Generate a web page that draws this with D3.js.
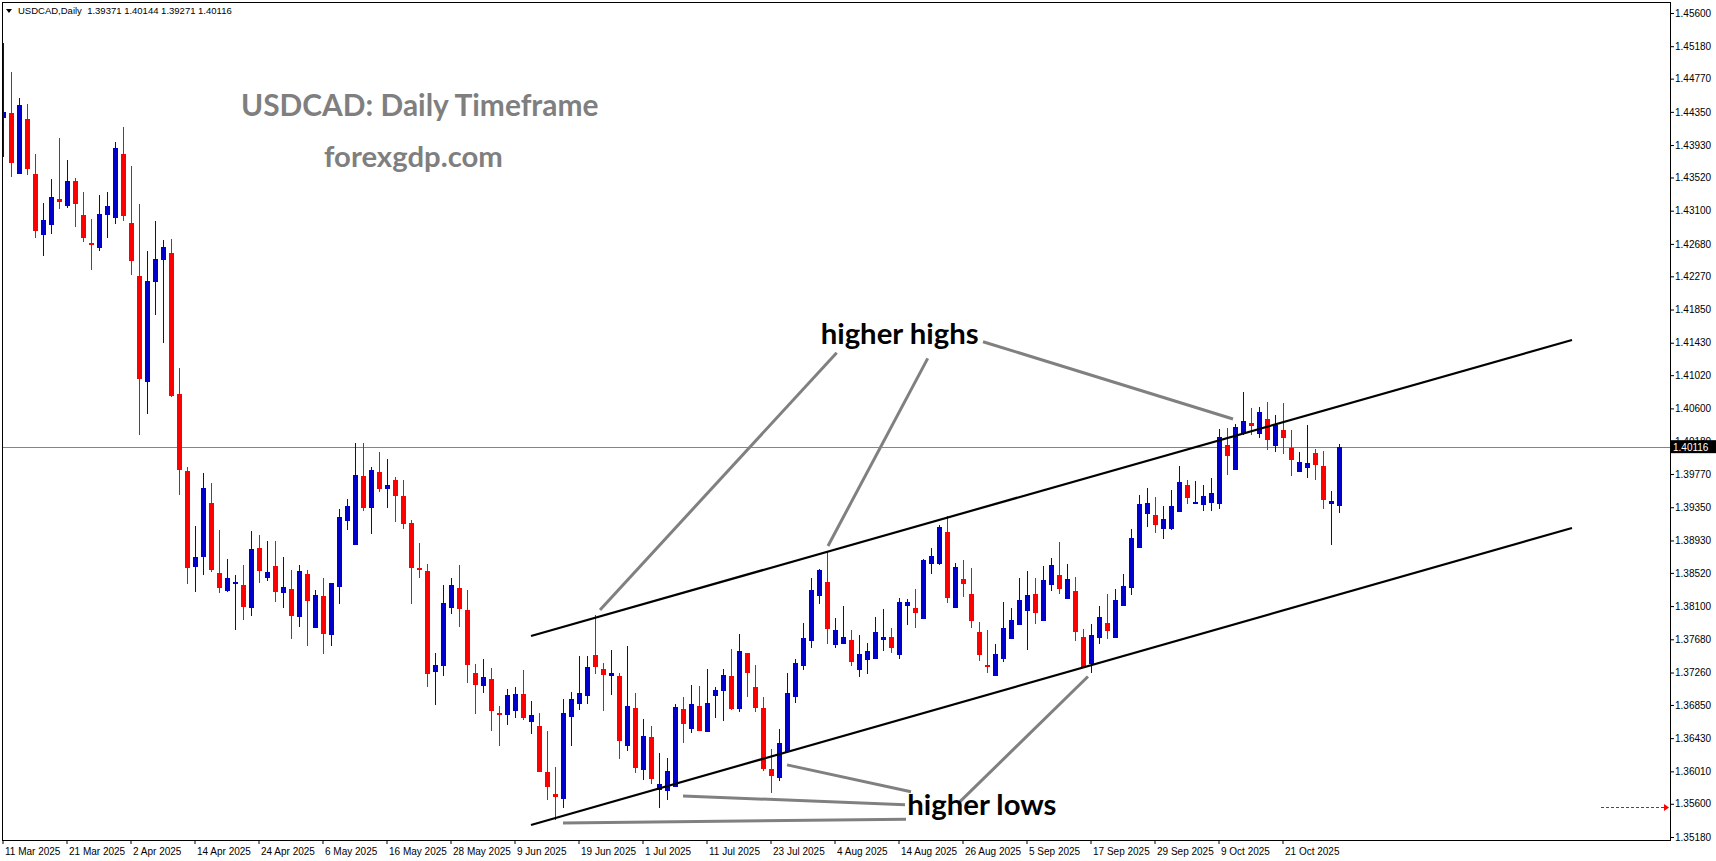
<!DOCTYPE html>
<html>
<head>
<meta charset="utf-8">
<script src="https://cdn.jsdelivr.net/npm/d3@7"></script>
<style>
  body { margin: 0; background: #fff; }
  svg { display: block; }
</style>
</head>
<body>
<script>
// daily bars, 11 Mar 2025 .. 30 Oct 2025 (one per weekday)
const opens = [1.44272,1.44335,1.43564,1.44259,1.43564,1.42792,1.42919,1.43248,1.43159,1.43475,1.43045,1.42691,1.42628,1.43045,1.43007,1.43817,1.42944,1.42274,1.40934,1.42198,1.42476,1.42565,1.40782,1.39808,1.38594,1.38721,1.39404,1.38518,1.38291,1.38379,1.38367,1.38076,1.38835,1.38455,1.38607,1.38265,1.38316,1.37962,1.38506,1.37823,1.38228,1.37734,1.38341,1.39176,1.38873,1.39745,1.39340,1.39796,1.39581,1.39694,1.39492,1.39151,1.38582,1.38544,1.37267,1.37342,1.38076,1.38329,1.38051,1.37254,1.37090,1.37178,1.36748,1.36723,1.36773,1.36988,1.36634,1.36584,1.36002,1.35724,1.35661,1.36698,1.36862,1.36963,1.37482,1.37305,1.37216,1.37216,1.36331,1.36811,1.36027,1.36445,1.35774,1.35762,1.35812,1.36799,1.36546,1.36837,1.36508,1.36963,1.37026,1.37216,1.36799,1.37507,1.37077,1.36811,1.36040,1.35926,1.36255,1.36950,1.37342,1.37659,1.38228,1.38405,1.37608,1.37621,1.37671,1.37292,1.37418,1.37431,1.37671,1.37709,1.37482,1.38101,1.38076,1.37937,1.38632,1.38632,1.39037,1.38076,1.38443,1.38253,1.37772,1.37355,1.37216,1.37431,1.37684,1.37861,1.38038,1.38253,1.37911,1.38367,1.38493,1.38190,1.38291,1.37709,1.37368,1.37697,1.37886,1.37697,1.38101,1.38329,1.38835,1.39265,1.39252,1.39075,1.39075,1.39290,1.39631,1.39391,1.39378,1.39404,1.39391,1.40137,1.39821,1.40276,1.40415,1.40276,1.40466,1.40124,1.40327,1.40099,1.39796,1.39846,1.40036,1.39871,1.39391,1.39371];
const highs = [1.45220,1.44854,1.44525,1.44449,1.43817,1.43197,1.43501,1.44019,1.43741,1.43513,1.43336,1.42995,1.43298,1.43336,1.43968,1.44158,1.43665,1.43184,1.42590,1.42970,1.42729,1.42742,1.41111,1.39859,1.39113,1.39783,1.39657,1.39062,1.38695,1.38493,1.38620,1.39050,1.38999,1.38923,1.38923,1.38721,1.38556,1.38620,1.38556,1.38303,1.38455,1.38395,1.39328,1.39454,1.40162,1.40162,1.39859,1.40049,1.39960,1.39732,1.39694,1.39189,1.38898,1.38632,1.37507,1.38367,1.38455,1.38620,1.38303,1.37368,1.37431,1.37317,1.36837,1.37052,1.37077,1.37292,1.36900,1.36748,1.36521,1.36065,1.36925,1.37014,1.37469,1.37469,1.37987,1.37380,1.37545,1.37254,1.37595,1.37001,1.36672,1.36584,1.36242,1.36179,1.36862,1.36950,1.37102,1.37090,1.37305,1.37077,1.37305,1.37557,1.37747,1.37511,1.37355,1.36950,1.36293,1.36546,1.37254,1.37431,1.37886,1.38455,1.38569,1.38784,1.37949,1.38101,1.37798,1.37734,1.37633,1.37962,1.38063,1.37823,1.38202,1.38190,1.38316,1.38695,1.38835,1.39125,1.39239,1.38645,1.38683,1.38582,1.37899,1.37798,1.37621,1.38152,1.38076,1.38455,1.38544,1.38455,1.38607,1.38708,1.38910,1.38632,1.38468,1.37810,1.37874,1.38101,1.38253,1.38316,1.38506,1.39075,1.39505,1.39593,1.39479,1.39366,1.39568,1.39871,1.39694,1.39682,1.39631,1.39720,1.40339,1.40352,1.40403,1.40807,1.40605,1.40618,1.40681,1.40516,1.40668,1.40327,1.40049,1.40390,1.40086,1.40061,1.39555,1.40144];
const lows = [1.43779,1.43526,1.43560,1.43551,1.42755,1.42527,1.42805,1.43121,1.43134,1.42894,1.42704,1.42350,1.42590,1.42755,1.42932,1.42970,1.42287,1.40263,1.40529,1.41781,1.41427,1.40744,1.39505,1.38379,1.38278,1.38493,1.38531,1.38265,1.38278,1.37798,1.37924,1.37975,1.38392,1.38417,1.38152,1.38076,1.37684,1.37836,1.37595,1.37820,1.37494,1.37595,1.38126,1.39062,1.38870,1.39302,1.39012,1.39543,1.39340,1.39163,1.39075,1.38126,1.38455,1.37077,1.36849,1.37216,1.38000,1.37836,1.37128,1.36736,1.37001,1.36521,1.36331,1.36596,1.36685,1.36660,1.36483,1.35998,1.35648,1.35395,1.35547,1.36331,1.36786,1.36862,1.37241,1.36773,1.36976,1.36166,1.36268,1.35989,1.35901,1.35850,1.35547,1.35648,1.35808,1.36369,1.36495,1.36518,1.36505,1.36685,1.36647,1.36786,1.36761,1.36950,1.36761,1.36015,1.35737,1.35888,1.36242,1.36875,1.37292,1.37570,1.38126,1.37621,1.37570,1.37618,1.37342,1.37203,1.37241,1.37428,1.37532,1.37507,1.37431,1.37861,1.37823,1.37933,1.38506,1.38620,1.38139,1.38072,1.38215,1.37823,1.37406,1.37254,1.37212,1.37393,1.37680,1.37857,1.37545,1.37874,1.37907,1.38291,1.38253,1.38186,1.37659,1.37326,1.37254,1.37621,1.37684,1.37693,1.38097,1.38240,1.38831,1.39100,1.39024,1.38948,1.39062,1.39286,1.39391,1.39387,1.39302,1.39302,1.39328,1.39758,1.39817,1.40263,1.40263,1.40226,1.40074,1.40049,1.40023,1.39745,1.39792,1.39720,1.39694,1.39328,1.38873,1.39271];
const closes = [1.44348,1.43703,1.44436,1.43627,1.42843,1.42982,1.43273,1.43210,1.43475,1.43184,1.42755,1.42679,1.43058,1.43159,1.43893,1.43033,1.42464,1.40972,1.42211,1.42489,1.42641,1.40757,1.39821,1.38582,1.38721,1.39593,1.38556,1.38329,1.38455,1.38405,1.38088,1.38822,1.38544,1.38531,1.38278,1.38341,1.37975,1.38544,1.38164,1.38240,1.37747,1.38390,1.39227,1.39366,1.39758,1.39340,1.39821,1.39581,1.39631,1.39492,1.39138,1.38582,1.38556,1.37241,1.37355,1.38139,1.38367,1.38063,1.37355,1.37102,1.37203,1.36773,1.36723,1.36976,1.36988,1.36685,1.36723,1.36002,1.35812,1.35686,1.36748,1.36925,1.37001,1.37330,1.37330,1.37229,1.37254,1.36394,1.36837,1.36053,1.36457,1.35914,1.35850,1.36015,1.36824,1.36609,1.36862,1.36521,1.36875,1.37039,1.37229,1.36799,1.37532,1.37254,1.36811,1.36040,1.35952,1.36369,1.37001,1.37380,1.37697,1.38303,1.38556,1.37810,1.37798,1.37709,1.37393,1.37494,1.37532,1.37772,1.37709,1.37570,1.38152,1.38152,1.38013,1.38683,1.38733,1.39100,1.38202,1.38594,1.38379,1.37911,1.37482,1.37330,1.37494,1.37823,1.37924,1.38177,1.38240,1.38013,1.38430,1.38620,1.38316,1.38443,1.37772,1.37330,1.37734,1.37962,1.37785,1.38177,1.38354,1.38961,1.39391,1.39404,1.39125,1.39201,1.39366,1.39669,1.39467,1.39416,1.39492,1.39530,1.40238,1.39998,1.40365,1.40441,1.40377,1.40554,1.40200,1.40390,1.40226,1.39947,1.39922,1.39909,1.39884,1.39442,1.39429,1.40116];

// x axis labels every 8 bars
const xTickLabels = ['11 Mar 2025','21 Mar 2025','2 Apr 2025','14 Apr 2025','24 Apr 2025','6 May 2025','16 May 2025','28 May 2025','9 Jun 2025','19 Jun 2025','1 Jul 2025','11 Jul 2025','23 Jul 2025','4 Aug 2025','14 Aug 2025','26 Aug 2025','5 Sep 2025','17 Sep 2025','29 Sep 2025','9 Oct 2025','21 Oct 2025'];
const yTicks = [1.456,1.4518,1.4477,1.4435,1.4393,1.4352,1.431,1.4268,1.4227,1.4185,1.4143,1.4102,1.406,1.4018,1.3977,1.3935,1.3893,1.3852,1.381,1.3768,1.3726,1.3685,1.3643,1.3601,1.356,1.3518];
const lastPrice = 1.40116;
const markerPrice = 1.35559;

// channel lines and callouts: [barIndex, price] pairs
const upperChannel = [[65.94, 1.37722], [196.06, 1.41465]];
const lowerChannel = [[65.94, 1.35332], [196.06, 1.39088]];
const highCallouts = [
  [[104.15, 1.41304], [74.56, 1.38051]],
  [[115.53, 1.41233], [103.06, 1.38860]],
  [[122.44, 1.41443], [153.69, 1.40466]]
];
const lowCallouts = [
  [[113.44, 1.35753], [97.94, 1.36092]],
  [[112.69, 1.35588], [84.94, 1.35699]],
  [[112.81, 1.35406], [69.94, 1.35357]],
  [[119.56, 1.35627], [135.56, 1.37209]]
];
const labels = [
  { text: 'higher highs', at: [102.15, 1.41410] },
  { text: 'higher lows', at: [112.98, 1.35460] }
];

const width = 1716, height = 861;
const plot = { left: 2, top: 2, right: 1670, bottom: 840 };

const svg = d3.select('body').append('svg')
  .attr('width', width).attr('height', height)
  .style('background', '#fff');

const x = d3.scaleLinear().domain([0, opens.length - 1]).range([3.5, 3.5 + 8 * (opens.length - 1)]);
const y = d3.scaleLinear().domain([1.456, 1.3518]).range([13, 837]);

svg.append('clipPath').attr('id', 'plotclip')
  .append('rect')
  .attr('x', plot.left).attr('y', plot.top)
  .attr('width', plot.right - plot.left).attr('height', plot.bottom - plot.top);

const g = svg.append('g').attr('clip-path', 'url(#plotclip)');

// last price line
g.append('line')
  .attr('x1', plot.left).attr('x2', plot.right)
  .attr('y1', Math.round(y(lastPrice)) + 0.5).attr('y2', Math.round(y(lastPrice)) + 0.5)
  .attr('stroke', '#778899').attr('stroke-width', 1);

// candles
const bars = d3.range(opens.length).map((i) => ({
  i, o: opens[i], h: highs[i], l: lows[i], c: closes[i]
}));
const colour = (d) => (d.c >= d.o ? '#0000cd' : '#ff0000');

const candle = g.append('g').attr('shape-rendering', 'crispEdges')
  .selectAll('g').data(bars).enter().append('g');

candle.append('line')
  .attr('x1', (d) => x(d.i)).attr('x2', (d) => x(d.i))
  .attr('y1', (d) => y(d.h)).attr('y2', (d) => y(d.l))
  .attr('stroke', colour).attr('stroke-width', 1);

candle.append('rect')
  .attr('x', (d) => x(d.i) - 2.5)
  .attr('width', 5)
  .attr('y', (d) => y(Math.max(d.o, d.c)))
  .attr('height', (d) => Math.max(1.5, y(Math.min(d.o, d.c)) - y(Math.max(d.o, d.c))))
  .attr('fill', colour);

// channel
const line = d3.line().x((d) => x(d[0])).y((d) => y(d[1]));
[upperChannel, lowerChannel].forEach((pts) => {
  g.append('path').attr('d', line(pts))
    .attr('fill', 'none').attr('stroke', '#000').attr('stroke-width', 2.2);
});

// callouts
highCallouts.concat(lowCallouts).forEach((pts) => {
  g.append('path').attr('d', line(pts))
    .attr('fill', 'none').attr('stroke', '#808080').attr('stroke-width', 3);
});

g.selectAll('text.note').data(labels).enter().append('text')
  .attr('class', 'note')
  .attr('x', (d) => x(d.at[0])).attr('y', (d) => y(d.at[1]))
  .attr('font-family', 'Lato, "Open Sans", sans-serif')
  .attr('font-weight', 700).attr('font-size', 29.3)
  .attr('fill', '#000')
  .text((d) => d.text);

// titles
g.append('text').attr('x', 241).attr('y', 116)
  .attr('font-family', 'Lato, "Open Sans", sans-serif').attr('font-weight', 700)
  .attr('font-size', 29.9).attr('fill', '#7f7f7f')
  .text('USDCAD: Daily Timeframe');
g.append('text').attr('x', 324).attr('y', 167)
  .attr('font-family', 'Lato, "Open Sans", sans-serif').attr('font-weight', 700)
  .attr('font-size', 29.3).attr('fill', '#7f7f7f')
  .text('forexgdp.com');

// red dashed marker at the right edge
const my = Math.round(y(markerPrice)) + 0.5;
svg.append('line')
  .attr('x1', 1601).attr('x2', 1664).attr('y1', my).attr('y2', my)
  .attr('stroke', '#ff0000').attr('stroke-width', 1).attr('stroke-dasharray', '3,2');
svg.append('path')
  .attr('d', `M1664,${my - 3.5}L1669,${my}L1664,${my + 3.5}Z`)
  .attr('fill', '#ff0000');

// frame
svg.append('rect')
  .attr('x', plot.left + 0.5).attr('y', plot.top + 0.5)
  .attr('width', plot.right - plot.left).attr('height', plot.bottom - plot.top)
  .attr('fill', 'none').attr('stroke', '#000').attr('stroke-width', 1);

// axes
const axisY = d3.axisRight(y).tickValues(yTicks).tickSize(4).tickPadding(1)
  .tickFormat(d3.format('.5f'));
const gy = svg.append('g').attr('transform', `translate(${plot.right}, 0)`).call(axisY);
gy.select('.domain').remove();
gy.selectAll('text').attr('font-family', '"Liberation Sans", Arial, sans-serif')
  .attr('font-size', 10).attr('fill', '#000');

const axisX = d3.axisBottom(x)
  .tickValues(d3.range(0, xTickLabels.length * 8, 8))
  .tickFormat((d) => xTickLabels[d / 8])
  .tickSize(4);
const gx = svg.append('g').attr('transform', `translate(-1, ${plot.bottom})`).call(axisX);
gx.select('.domain').remove();
gx.selectAll('text')
  .attr('text-anchor', 'start').attr('x', 2).attr('y', 8)
  .attr('font-family', '"Liberation Sans", Arial, sans-serif')
  .attr('font-size', 10).attr('fill', '#000');

// last price tag (covers the 1.40180 tick label, as in the terminal)
const ly = y(lastPrice);
svg.append('rect').attr('x', 1671).attr('y', ly - 6.5).attr('width', 45).attr('height', 13).attr('fill', '#000');
svg.append('text').attr('x', 1673).attr('y', ly + 4)
  .attr('font-family', '"Liberation Sans", Arial, sans-serif').attr('font-size', 10)
  .attr('fill', '#fff').text(d3.format('.5f')(lastPrice));

// header
svg.append('path').attr('d', 'M6,9L12,9L9,13Z').attr('fill', '#000');
svg.append('text').attr('x', 18).attr('y', 14)
  .attr('font-family', '"Liberation Sans", Arial, sans-serif').attr('font-size', 9.5)
  .attr('fill', '#000')
  .attr('xml:space', 'preserve')
  .text('USDCAD,Daily  ' + [opens, highs, lows, closes].map((a) => a[a.length - 1].toFixed(5)).join(' '));
</script>
</body>
</html>
